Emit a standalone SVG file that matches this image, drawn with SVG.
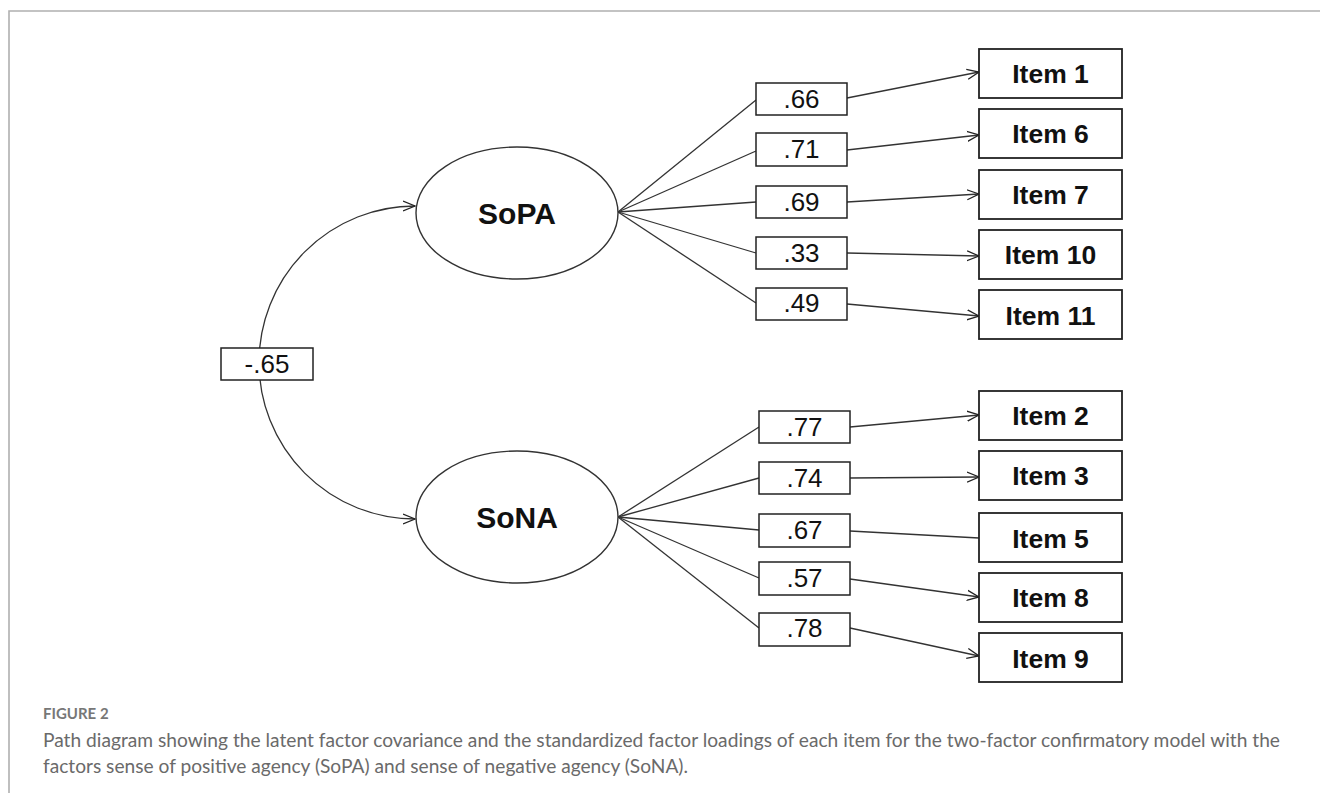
<svg xmlns="http://www.w3.org/2000/svg" width="1320" height="793" viewBox="0 0 1320 793">
<style>
.frame{stroke:#b0b0b0;stroke-width:1.6;fill:none}
.lat{fill:#fff;stroke:#333;stroke-width:1.4}
.item{fill:#fff;stroke:#222;stroke-width:1.8}
.ld{fill:#fff;stroke:#222;stroke-width:1.5}
.edge{stroke:#333;stroke-width:1.3;fill:none}
.arr{marker-end:url(#ah)}
.tl{font-family:"Liberation Sans",Arial,sans-serif;font-weight:bold;font-size:30px;fill:#111;text-anchor:middle}
.ti{font-family:"Liberation Sans",Arial,sans-serif;font-weight:bold;font-size:26.5px;fill:#111;text-anchor:middle}
.tn{font-family:"Liberation Sans",Arial,sans-serif;font-size:26px;fill:#111;text-anchor:middle}
.cap{font-family:Lato,"Open Sans",sans-serif;font-size:18.5px;fill:#6a6a6a}
.fig{font-family:Lato,"Open Sans",sans-serif;font-size:15px;font-weight:bold;fill:#777}
</style>
<defs>
<marker id="ah" markerUnits="userSpaceOnUse" markerWidth="14" markerHeight="12" refX="12" refY="6" orient="auto-start-reverse" viewBox="0 0 14 12">
<path d="M0,1 L12,6 L0,11" fill="none" stroke="#222" stroke-width="1.3"/>
</marker>
</defs>
<rect width="1320" height="793" fill="#fff"/>
<path class="frame" d="M9,793 V11 H1320"/>

<g id="connectors">
<path class="edge" d="M415,206 A156,156.5 0 0 0 415,519" marker-start="url(#ah)" marker-end="url(#ah)"/>
<line class="edge" x1="618" y1="212" x2="756" y2="100"/>
<line class="edge" x1="618" y1="212" x2="756" y2="151"/>
<line class="edge" x1="618" y1="212" x2="756" y2="202"/>
<line class="edge" x1="618" y1="212" x2="756" y2="253"/>
<line class="edge" x1="618" y1="212" x2="756" y2="303"/>
<line class="edge arr" x1="847" y1="98" x2="979" y2="72"/>
<line class="edge arr" x1="847" y1="150" x2="979" y2="135"/>
<line class="edge arr" x1="847" y1="202" x2="979" y2="194"/>
<line class="edge arr" x1="847" y1="253" x2="979" y2="256"/>
<line class="edge arr" x1="847" y1="304" x2="979" y2="316"/>
<line class="edge" x1="618" y1="517" x2="759" y2="427"/>
<line class="edge" x1="618" y1="517" x2="759" y2="478"/>
<line class="edge" x1="618" y1="517" x2="759" y2="530"/>
<line class="edge" x1="618" y1="517" x2="759" y2="578"/>
<line class="edge" x1="618" y1="517" x2="759" y2="628"/>
<line class="edge arr" x1="850" y1="427" x2="979" y2="415"/>
<line class="edge arr" x1="850" y1="478" x2="979" y2="477"/>
<line class="edge" x1="850" y1="531" x2="979" y2="538"/>
<line class="edge arr" x1="850" y1="579" x2="979" y2="597"/>
<line class="edge arr" x1="850" y1="628" x2="979" y2="656"/>
</g>

<g id="cov">
<rect class="ld" x="221" y="348" width="92" height="32"/>
<text class="tn" x="267" y="373">-.65</text>
</g>

<g id="SoPA">
<ellipse class="lat" cx="517" cy="213" rx="101" ry="66"/>
<text class="tl" x="517" y="224">SoPA</text>
</g>
<g id="SoNA">
<ellipse class="lat" cx="517" cy="517" rx="101" ry="66"/>
<text class="tl" x="517" y="528">SoNA</text>
</g>

<g id="l66"><rect class="ld" x="756" y="83" width="91" height="32"/><text class="tn" x="801.5" y="108">.66</text></g>
<g id="l71"><rect class="ld" x="756" y="133" width="91" height="33"/><text class="tn" x="801.5" y="158">.71</text></g>
<g id="l69"><rect class="ld" x="756" y="186" width="91" height="32"/><text class="tn" x="801.5" y="211">.69</text></g>
<g id="l33"><rect class="ld" x="756" y="237" width="91" height="32"/><text class="tn" x="801.5" y="262">.33</text></g>
<g id="l49"><rect class="ld" x="756" y="288" width="91" height="32"/><text class="tn" x="801.5" y="312">.49</text></g>

<g id="l77"><rect class="ld" x="759" y="411" width="91" height="32"/><text class="tn" x="804.5" y="436">.77</text></g>
<g id="l74"><rect class="ld" x="759" y="462" width="91" height="32"/><text class="tn" x="804.5" y="487">.74</text></g>
<g id="l67"><rect class="ld" x="759" y="514" width="91" height="33"/><text class="tn" x="804.5" y="539">.67</text></g>
<g id="l57"><rect class="ld" x="759" y="562" width="91" height="33"/><text class="tn" x="804.5" y="587">.57</text></g>
<g id="l78"><rect class="ld" x="759" y="613" width="91" height="33"/><text class="tn" x="804.5" y="637">.78</text></g>

<g id="item1"><rect class="item" x="979" y="49" width="143" height="49"/><text class="ti" x="1050.5" y="83">Item 1</text></g>
<g id="item6"><rect class="item" x="979" y="109" width="143" height="49"/><text class="ti" x="1050.5" y="143">Item 6</text></g>
<g id="item7"><rect class="item" x="979" y="170" width="143" height="49"/><text class="ti" x="1050.5" y="204">Item 7</text></g>
<g id="item10"><rect class="item" x="979" y="230" width="143" height="49"/><text class="ti" x="1050.5" y="264">Item 10</text></g>
<g id="item11"><rect class="item" x="979" y="290" width="143" height="49"/><text class="ti" x="1050.5" y="325">Item 11</text></g>

<g id="item2"><rect class="item" x="979" y="391" width="143" height="49"/><text class="ti" x="1050.5" y="425">Item 2</text></g>
<g id="item3"><rect class="item" x="979" y="451" width="143" height="49"/><text class="ti" x="1050.5" y="485">Item 3</text></g>
<g id="item5"><rect class="item" x="979" y="513" width="143" height="49"/><text class="ti" x="1050.5" y="548">Item 5</text></g>
<g id="item8"><rect class="item" x="979" y="573" width="143" height="49"/><text class="ti" x="1050.5" y="607">Item 8</text></g>
<g id="item9"><rect class="item" x="979" y="633" width="143" height="49"/><text class="ti" x="1050.5" y="668">Item 9</text></g>

<g id="caption">
<text class="fig" x="43" y="719">FIGURE 2</text>
<text class="cap" x="43" y="747" textLength="1237" lengthAdjust="spacingAndGlyphs">Path diagram showing the latent factor covariance and the standardized factor loadings of each item for the two-factor confirmatory model with the</text>
<text class="cap" x="43" y="773" textLength="645" lengthAdjust="spacingAndGlyphs">factors sense of positive agency (SoPA) and sense of negative agency (SoNA).</text>
</g>
</svg>
